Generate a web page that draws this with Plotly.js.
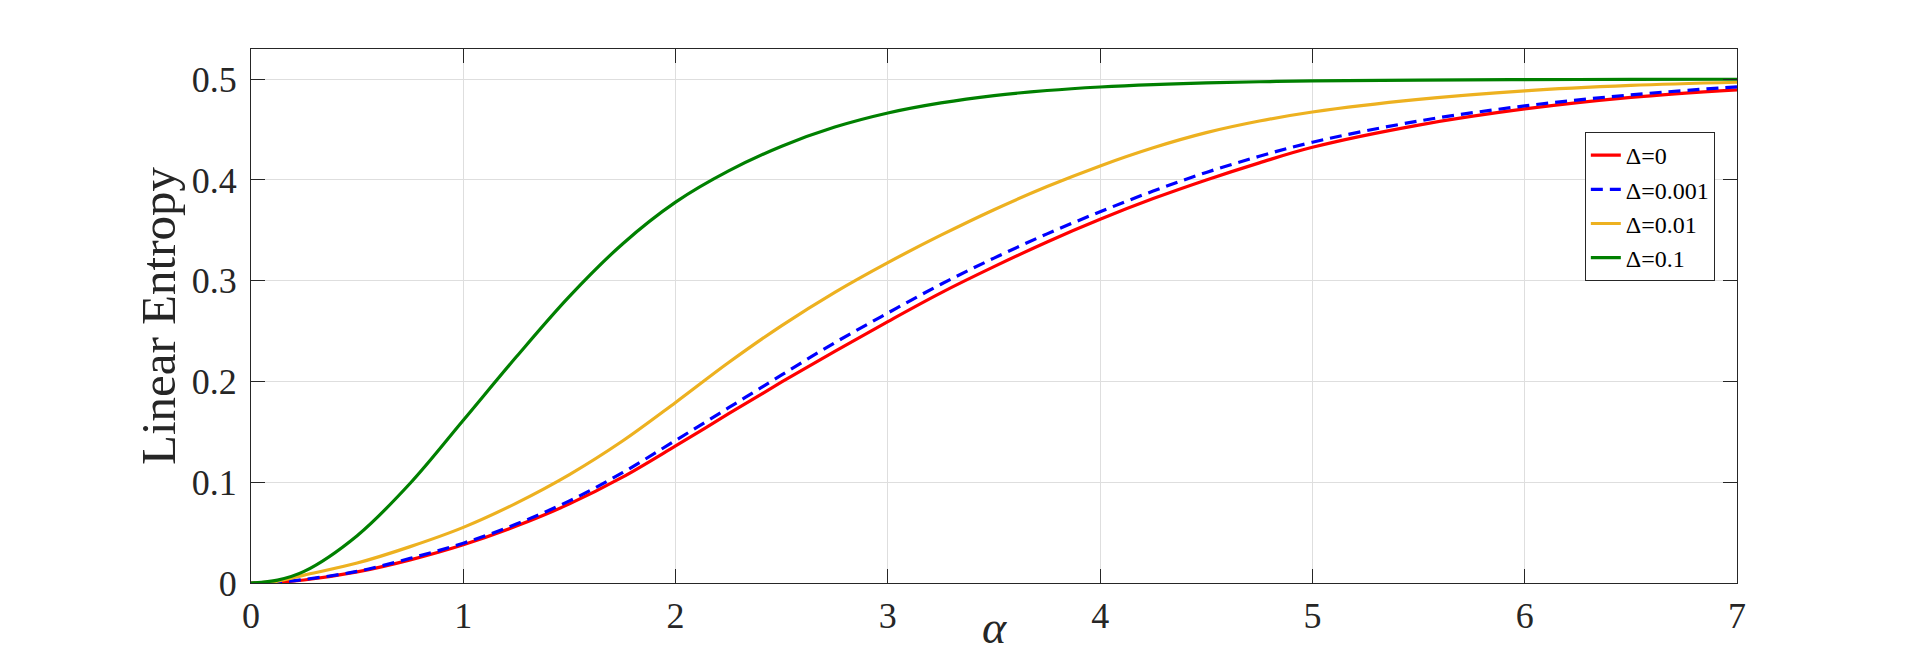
<!DOCTYPE html>
<html>
<head>
<meta charset="utf-8">
<script src="https://cdn.plot.ly/plotly-3.0.1.min.js"></script>
<style>html,body{margin:0;padding:0;background:#fff;}#chart{width:1920px;height:656px;}</style>
</head>
<body>
<div id="chart"></div>
<script>
// alpha values (x axis)
const alpha = [0,0.125,0.25,0.5,0.75,1,1.25,1.5,1.75,2,2.25,2.5,2.75,3,3.25,3.5,3.75,4,4.25,4.5,4.75,5,5.5,6,6.5,7];
// Linear entropy for each detuning
const entropyD0     = [0,0.0008,0.003,0.011,0.023,0.038,0.0565,0.0785,0.105,0.136,0.168,0.1995,0.230,0.2595,0.288,0.314,0.3385,0.361,0.3815,0.400,0.417,0.4325,0.4545,0.4705,0.482,0.4895];
const entropyD0001  = [0,0.0009,0.0035,0.0115,0.0245,0.0395,0.0585,0.0815,0.1095,0.1415,0.174,0.2065,0.2385,0.268,0.2965,0.3225,0.3465,0.3685,0.389,0.4075,0.4235,0.4375,0.4585,0.4735,0.4845,0.4925];
const entropyD001   = [0,0.0019,0.0078,0.0198,0.0361,0.0552,0.0793,0.1076,0.1409,0.1792,0.2188,0.2555,0.2885,0.318,0.3452,0.3705,0.3935,0.414,0.432,0.447,0.4585,0.4675,0.480,0.4885,0.4938,0.497];
const entropyD01    = [0,0.0029,0.0115,0.047,0.099,0.1615,0.2245,0.2845,0.3365,0.378,0.409,0.4335,0.4525,0.4665,0.4765,0.4838,0.4888,0.4923,0.4947,0.4963,0.4975,0.4983,0.4992,0.4996,0.4998,0.5];
const seriesNames = ['Δ=0','Δ=0.001','Δ=0.01','Δ=0.1'];
const xTicks = [0,1,2,3,4,5,6,7];
const xTickLabels = ['0','1','2','3','4','5','6','7'];
const yTicks = [0,0.1,0.2,0.3,0.4,0.5];
const yTickLabels = ['0','0.1','0.2','0.3','0.4','0.5'];

const serif = 'Liberation Serif, Times New Roman, serif';
const ink = '#262626';

const lineStyle = (color, dash) => ({color: color, width: 3.2, dash: dash || 'solid', shape: 'spline', smoothing: 1});

const traces = [
  {x: alpha, y: entropyD0, name: seriesNames[0], mode: 'lines', line: lineStyle('#ff0000')},
  {x: alpha, y: entropyD0001, name: seriesNames[1], mode: 'lines', line: lineStyle('#0000ff', '12px,7px')},
  {x: alpha, y: entropyD001, name: seriesNames[2], mode: 'lines', line: lineStyle('#EDB120')},
  {x: alpha, y: entropyD01, name: seriesNames[3], mode: 'lines', line: lineStyle('#008000')}
];

const axisCommon = {
  showline: true, linecolor: ink, linewidth: 1, mirror: 'ticks',
  ticks: 'inside', ticklen: 14, tickwidth: 1, tickcolor: ink,
  showgrid: true, gridcolor: '#dedede', gridwidth: 1,
  zeroline: false,
  tickfont: {family: serif, size: 36, color: ink},
  tickmode: 'array'
};

const layout = {
  width: 1920, height: 656,
  paper_bgcolor: '#ffffff', plot_bgcolor: '#ffffff',
  margin: {l: 251, r: 183, t: 49, b: 73, pad: 0},
  showlegend: true,
  xaxis: Object.assign({}, axisCommon, {range: [0, 7], tickvals: xTicks, ticktext: xTickLabels, ticklabelstandoff: 1}),
  yaxis: Object.assign({}, axisCommon, {range: [0, 0.53], tickvals: yTicks, ticktext: yTickLabels, ticklabelstandoff: 6,
    title: {text: 'Linear Entropy', font: {family: serif, size: 49, color: ink}, standoff: 0}}),
  annotations: [{
    text: 'α', xref: 'paper', yref: 'paper', x: 0.5, y: -0.135, xanchor: 'center', yanchor: 'bottom', showarrow: false,
    font: {family: serif, size: 46, color: ink, style: 'italic'}
  }],
  legend: {
    x: 0.8976, y: 0.8446, xanchor: 'left', yanchor: 'top',
    bgcolor: '#ffffff', bordercolor: ink, borderwidth: 1,
    font: {family: serif, size: 24, color: '#000000'},
    tracegroupgap: 0
  }
};

Plotly.newPlot('chart', traces, layout, {displayModeBar: false, staticPlot: true});
</script>
</body>
</html>
